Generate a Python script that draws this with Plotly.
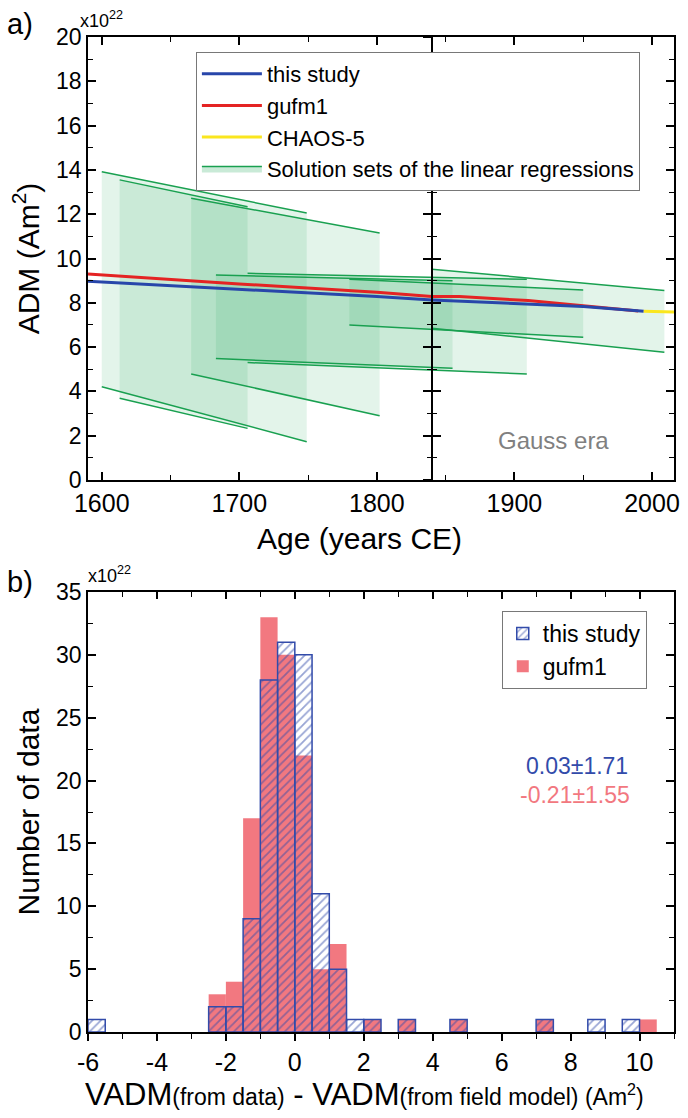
import plotly.graph_objects as go

# ---------------- Panel a) data ----------------
gufm1_years = [1590, 1700, 1800, 1840, 1860, 1880, 1910, 1950, 1990]
gufm1_adm = [9.30, 8.85, 8.48, 8.28, 8.28, 8.20, 8.10, 7.87, 7.63]
study_years = [1590, 1700, 1800, 1840, 1900, 1950, 1994]
study_adm = [8.97, 8.62, 8.28, 8.13, 7.98, 7.83, 7.62]
chaos_years = [1994, 2016]
chaos_adm = [7.62, 7.58]

# solution sets of the linear regressions (time span, upper & lower bounding lines)
reg_start = [1600, 1613, 1665, 1683, 1706, 1780, 1840]
reg_end = [1749, 1706, 1802, 1855, 1909, 1950, 2009]
reg_up_start = [13.92, 13.55, 12.72, 9.25, 9.33, 9.06, 9.52]
reg_up_end = [12.05, 12.34, 11.15, 9.00, 9.06, 8.58, 8.55]
reg_lo_start = [4.21, 3.69, 4.79, 5.48, 5.30, 7.00, 6.85]
reg_lo_end = [1.73, 2.33, 2.90, 5.05, 4.79, 6.44, 5.77]
gauss_era_start = 1840

# ---------------- Panel b) data ----------------
bin_left = [-6.0, -5.5, -5.0, -4.5, -4.0, -3.5, -3.0, -2.5, -2.0, -1.5, -1.0, -0.5,
            0.0, 0.5, 1.0, 1.5, 2.0, 2.5, 3.0, 3.5, 4.0, 4.5, 5.0, 5.5, 6.0, 6.5,
            7.0, 7.5, 8.0, 8.5, 9.0, 9.5, 10.0]
count_study = [1, 0, 0, 0, 0, 0, 0, 2, 2, 9, 28, 31,
               30, 11, 5, 1, 1, 0, 1, 0, 0, 1, 0, 0, 0, 0,
               1, 0, 0, 1, 0, 1, 0]
count_gufm1 = [0, 0, 0, 0, 0, 0, 0, 3, 4, 17, 33, 30,
               22, 5, 7, 0, 1, 0, 1, 0, 0, 1, 0, 0, 0, 0,
               1, 0, 0, 0, 0, 0, 1]
bin_width = 0.5
xb_ticks = [-6, -4, -2, 0, 2, 4, 6, 8, 10]
xb_ticklabels = ["-6", "-4", "-2", "0", "2", "4", "6", "8", "10"]
stat_study = "0.03±1.71"
stat_gufm1 = "-0.21±1.55"

# ---------------- layout geometry ----------------
W, H = 688, 1118
ML, MR, MT, MB = 88, 8, 37, 86
PW, PH = W - ML - MR, H - MT - MB


def px(x):
    return (x - ML) / PW


def py(y):
    return (H - MB - y) / PH


FONT = "Liberation Sans, Arial, Helvetica, sans-serif"
BLUE = "rgb(40,70,170)"
RED = "rgb(228,35,35)"
YELLOW = "rgb(250,230,30)"
GREEN = "rgb(25,160,80)"
GFILL = "rgba(40,170,95,0.13)"
PINK = "rgb(242,120,128)"
HBLUE = "rgb(50,75,170)"

XR_A = [1590, 2016]
YR_A = [0, 20]
XR_B = [-6, 11]
YR_B = [0, 35]

fig = go.Figure()

# solution-set polygons
for s, e, us, ue, ls, le in zip(reg_start, reg_end, reg_up_start, reg_up_end, reg_lo_start, reg_lo_end):
    fig.add_trace(go.Scatter(x=[s, e, e, s, s], y=[us, ue, le, ls, us], mode="lines",
                             fill="toself", fillcolor=GFILL, line=dict(width=0),
                             showlegend=False, hoverinfo="skip", xaxis="x", yaxis="y"))
for s, e, us, ue, ls, le in zip(reg_start, reg_end, reg_up_start, reg_up_end, reg_lo_start, reg_lo_end):
    fig.add_trace(go.Scatter(x=[s, e], y=[us, ue], mode="lines", line=dict(color=GREEN, width=1.5),
                             showlegend=False, hoverinfo="skip", xaxis="x", yaxis="y"))
    fig.add_trace(go.Scatter(x=[s, e], y=[ls, le], mode="lines", line=dict(color=GREEN, width=1.5),
                             showlegend=False, hoverinfo="skip", xaxis="x", yaxis="y"))

fig.add_trace(go.Scatter(x=[None], y=[None], mode="lines", fill="toself", fillcolor="rgba(40,170,95,0.25)",
                         line=dict(color=GREEN, width=1.5), name="Solution sets of the linear regressions",
                         legendrank=4, legend="legend", xaxis="x", yaxis="y"))
fig.add_trace(go.Scatter(x=gufm1_years, y=gufm1_adm, mode="lines", line=dict(color=RED, width=3),
                         name="gufm1", legendrank=2, legend="legend", xaxis="x", yaxis="y"))
fig.add_trace(go.Scatter(x=study_years, y=study_adm, mode="lines", line=dict(color=BLUE, width=3),
                         name="this study", legendrank=1, legend="legend", xaxis="x", yaxis="y"))
fig.add_trace(go.Scatter(x=chaos_years, y=chaos_adm, mode="lines", line=dict(color=YELLOW, width=3),
                         name="CHAOS-5", legendrank=3, legend="legend", xaxis="x", yaxis="y"))

# dummy traces to register the Gauss-era divider axes
for ya in ["y3", "y4"]:
    fig.add_trace(go.Scatter(x=[], y=[], showlegend=False, hoverinfo="skip", xaxis="x", yaxis=ya))

# ---------------- histogram ----------------
fig.add_trace(go.Bar(x=bin_left, y=[c if c else None for c in count_gufm1], width=bin_width, offset=0,
                     marker=dict(color=PINK, line=dict(width=0)), name="gufm1",
                     legend="legend2", legendrank=2, xaxis="x2", yaxis="y2"))
fig.add_trace(go.Bar(x=bin_left, y=[c if c else None for c in count_study], width=bin_width, offset=0,
                     marker=dict(color="rgba(0,0,0,0)", line=dict(width=1.5, color=HBLUE),
                                 pattern=dict(shape="/", fgcolor=HBLUE, size=6, solidity=0.3,
                                              fillmode="overlay")),
                     name="this study", legend="legend2", legendrank=1, xaxis="x2", yaxis="y2"))
fig.add_trace(go.Scatter(x=[], y=[], showlegend=False, hoverinfo="skip", xaxis="x3", yaxis="y2"))

tickfont_y = dict(family=FONT, size=23, color="black")
tickfont_x = dict(family=FONT, size=25, color="black")
titlefont = dict(family=FONT, size=30, color="black")

common = dict(showline=True, linecolor="black", linewidth=1.5, showgrid=False, zeroline=False,
              tickcolor="black", tickwidth=1.5)

fig.update_layout(
    width=W, height=H, margin=dict(l=ML, r=MR, t=MT, b=MB),
    paper_bgcolor="white", plot_bgcolor="white", font=dict(family=FONT, color="black"),
    barmode="overlay", showlegend=True,
    xaxis=dict(domain=[0, 1], anchor="y", range=XR_A, tick0=1600, dtick=100, ticks="inside",
               ticklen=8, mirror="ticks", tickfont=tickfont_x,
               minor=dict(dtick=50, ticklen=5, ticks="inside", tickcolor="black", tickwidth=1.2),
               **common),
    yaxis=dict(domain=[py(480), 1], anchor="x", range=YR_A, dtick=2, ticks="inside", ticklen=8,
               mirror="ticks", tickfont=tickfont_y,
               minor=dict(dtick=1, ticklen=5, ticks="inside", tickcolor="black", tickwidth=1.2),
               title=dict(text="ADM (Am<sup>2</sup>)", font=titlefont, standoff=8), **common),
    yaxis3=dict(overlaying="y", anchor="free", side="left",
                position=(gauss_era_start - XR_A[0]) / (XR_A[1] - XR_A[0]),
                range=YR_A, dtick=2, ticks="inside", ticklen=8, showticklabels=False,
                minor=dict(dtick=1, ticklen=4, ticks="inside", tickcolor="black", tickwidth=1.2), **common),
    yaxis4=dict(overlaying="y", anchor="free", side="left",
                position=(gauss_era_start - XR_A[0]) / (XR_A[1] - XR_A[0]),
                range=YR_A, dtick=2, ticks="outside", ticklen=8, showticklabels=False,
                minor=dict(dtick=1, ticklen=4, ticks="outside", tickcolor="black", tickwidth=1.2), **common),
    xaxis2=dict(domain=[0, 1], anchor="y2", range=XR_B, tickvals=xb_ticks, ticktext=xb_ticklabels,
                ticks="outside", ticklen=7, tickfont=tickfont_x,
                minor=dict(dtick=1, tick0=-6, ticklen=5, ticks="outside", tickcolor="black", tickwidth=1.2),
                **common),
    xaxis3=dict(overlaying="x2", anchor="y2", side="top", range=XR_B, tick0=-6, dtick=2, ticks="inside",
                ticklen=7, showticklabels=False,
                minor=dict(dtick=1, ticklen=5, ticks="inside", tickcolor="black", tickwidth=1.2), **common),
    yaxis2=dict(domain=[0, py(592)], anchor="x2", range=YR_B, dtick=5, ticks="inside", ticklen=8,
                mirror="ticks", tickfont=tickfont_y,
                minor=dict(dtick=2.5, ticklen=5, ticks="inside", tickcolor="black", tickwidth=1.2),
                title=dict(text="Number of data", font=titlefont, standoff=8), **common),
    legend=dict(x=px(197), y=py(52), xanchor="left", yanchor="top", bgcolor="white",
                bordercolor="rgb(120,120,120)", borderwidth=1, font=dict(family=FONT, size=22),
                itemwidth=60, tracegroupgap=0),
    legend2=dict(x=px(506), y=py(611), xanchor="left", yanchor="top", bgcolor="white",
                 bordercolor="rgb(120,120,120)", borderwidth=1, font=dict(family=FONT, size=23),
                 tracegroupgap=0),
)

annotations = [
    dict(text="a)", x=px(4), y=py(24), xanchor="left", yanchor="middle", font=dict(size=29)),
    dict(text="b)", x=px(4), y=py(582), xanchor="left", yanchor="middle", font=dict(size=29)),
    dict(text="x10<sup>22</sup>", x=px(78), y=py(33), xanchor="left", yanchor="bottom", font=dict(size=18)),
    dict(text="x10<sup>22</sup>", x=px(86), y=py(588), xanchor="left", yanchor="bottom", font=dict(size=18)),
    dict(text="Age (years CE)", x=px(362), y=py(538), xanchor="center", yanchor="middle",
         font=dict(size=30)),
    dict(text="VADM<span style='font-size:23px'>(from data)</span> - "
              "VADM<span style='font-size:23px'>(from field model) (Am<sup>2</sup>)</span>",
         x=px(367), y=py(1094), xanchor="center", yanchor="middle", font=dict(size=31)),
    dict(text="Gauss era", x=px(558), y=py(440), xanchor="center", yanchor="middle",
         font=dict(size=24, color="rgb(128,128,128)")),
    dict(text=stat_study, x=px(636), y=py(766), xanchor="right", yanchor="middle",
         font=dict(size=23, color=HBLUE)),
    dict(text=stat_gufm1, x=px(638), y=py(795), xanchor="right", yanchor="middle",
         font=dict(size=23, color=PINK)),
]
for a in annotations:
    a.update(xref="paper", yref="paper", showarrow=False)
    a["font"].setdefault("family", FONT)
    a["font"].setdefault("color", "black")
fig.update_layout(annotations=annotations)

fig.write_html("out.html")
